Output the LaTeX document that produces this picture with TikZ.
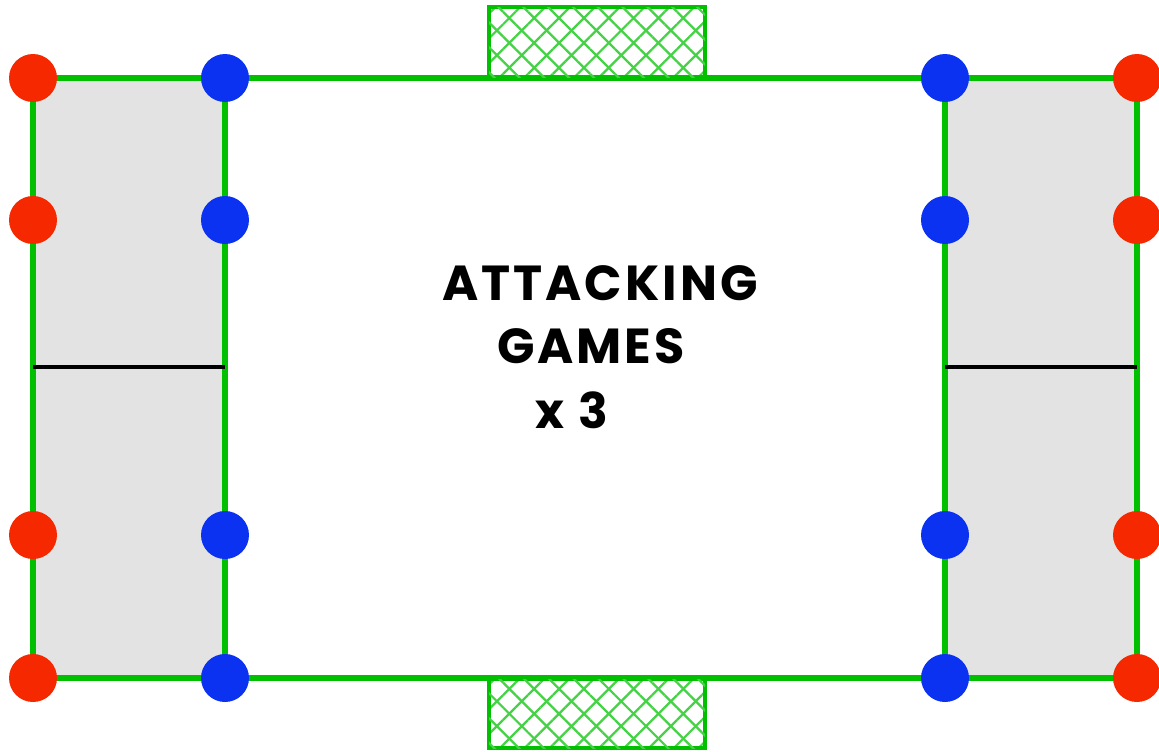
\documentclass[tikz,border=0pt]{standalone}
\usepackage{fontspec}
\newfontfamily\pitchfont{Poppins}[LetterSpace=6]
\usetikzlibrary{patterns.meta}
\definecolor{pitchgreen}{RGB}{0,192,0}
\definecolor{netgreen}{RGB}{70,210,70}
\definecolor{conered}{RGB}{245,40,0}
\definecolor{coneblue}{RGB}{10,50,240}
\definecolor{zonegrey}{RGB}{227,227,227}

\begin{document}
\begin{tikzpicture}[
  x=0.02cm, y=-0.02cm,
  pitchline/.style={draw=pitchgreen, line width=3pt},
  halfway/.style={draw=black, line width=2pt},
  zone/.style={fill=zonegrey},
  goal/.style={draw=pitchgreen, line width=2.5pt, fill=white,
    pattern={Lines[angle=45, distance=10pt, line width=1.3pt]}, pattern color=netgreen,
    postaction={pattern={Lines[angle=-45, distance=10pt, line width=1.3pt]}, pattern color=netgreen}},
  cone/.style={circle, inner sep=0pt, minimum size=0.96cm},
  redcone/.style={cone, fill=conered},
  bluecone/.style={cone, fill=coneblue},
  lbl/.style={font=\pitchfont\bfseries\fontsize{28}{34}\selectfont, inner sep=0pt},
]
\useasboundingbox (0,0) rectangle (1159,751);

% end zones
\fill[zone] (33,78) rectangle (225,678);
\fill[zone] (945,78) rectangle (1137,678);

% pitch
\draw[pitchline] (33,78) rectangle (1137,678);
\draw[pitchline] (225,78) -- (225,678);
\draw[pitchline] (945,78) -- (945,678);
\draw[halfway] (33,367) -- (225,367);
\draw[halfway] (945,367) -- (1137,367);

% goals
\path[goal] (489,7) rectangle (705,77);
\path[goal] (489,679) rectangle (705,748);

% cones
\foreach \y/\n in {78/1, 220/2, 535/3, 678/4} {
  \node[redcone] (lr\n) at (33,\y) {};
  \node[bluecone] (lb\n) at (225,\y) {};
  \node[bluecone] (rb\n) at (945,\y) {};
  \node[redcone] (rr\n) at (1137,\y) {};
}

% label
\node[lbl] (attacking) at (600,283) {ATTACKING};
\node[lbl] (games) at (591,346) {GAMES};
\node[lbl] (times) at (572,410) {x 3};
\end{tikzpicture}
\end{document}
